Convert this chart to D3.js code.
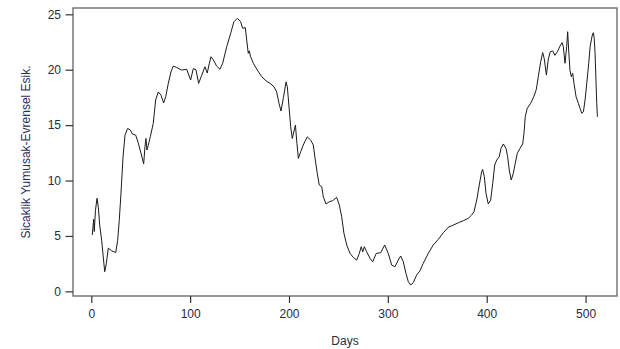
<!DOCTYPE html>
<html>
<head>
<meta charset="utf-8">
<script src="https://cdn.jsdelivr.net/npm/d3@7"></script>
<style>
  body { margin: 0; background: #fff; }
  svg { display: block; font-family: "Liberation Sans", Arial, sans-serif; }
</style>
</head>
<body>
<svg id="chart"></svg>
<script>
// values
var days = [1, 2.4, 3, 4.2, 5.8, 7.1, 8.5, 10.5, 12.1, 13.6, 15.2, 17.2, 20.6, 24.7, 26.7, 28.3, 30, 32.1, 34.1, 36.8,
    39.5, 41.5, 44.9, 47.5, 50.3, 53, 54.3, 55.3, 56.3, 57.7, 59.7, 62.7, 65.1, 67.8, 70.5, 73.2, 75.3, 77.9, 80.6, 82.9,
    86.4, 91.4, 96.5, 100.5, 103.2, 105.9, 108.6, 111.7, 115, 117.3, 119.4, 121.1, 123.4, 126.8, 130.2, 132.9, 137, 141, 144.3, 147.7,
    151.1, 153.1, 155.8, 157.2, 158.8, 159.8, 161.2, 163.9, 167.9, 172.4, 176.7, 180.8, 184.8, 187.5, 189.9, 191.9, 194.4, 197, 198.3, 200.3,
    201.7, 203.3, 206.5, 208, 209.5, 211.8, 214.4, 218.5, 221.9, 224.6, 226.6, 228.6, 230.6, 233.1, 234.7, 237.4, 240.7, 244.2, 248.2, 250.9,
    253.3, 255.6, 258.4, 261.7, 265, 268.5, 271.1, 273.1, 274.6, 276.2, 278.6, 282, 284.6, 288.3, 292.7, 296.8, 300.4, 303.9, 307.2, 310.5,
    313, 315.6, 318.3, 320.7, 323.1, 325.7, 329.1, 332.5, 335.8, 340.9, 345.9, 351, 356.1, 361.1, 366.2, 371.3, 376.3, 381.4, 384.8, 387.1,
    389.9, 392.5, 394.9, 395.9, 397.6, 399.3, 401.6, 404, 406.1, 408.1, 410.1, 412.7, 414.4, 416.8, 419.5, 421.2, 422.8, 424.8, 426.9, 428.9,
    430.9, 433.7, 436.4, 437.7, 439, 441, 444.5, 447.8, 450.1, 452.2, 454.6, 456.6, 458.2, 460.4, 462.3, 464.3, 466.7, 469, 471.4, 474.2,
    476.2, 477.5, 479.2, 480.9, 481.9, 482.9, 484.2, 485.6, 487, 488.3, 490.4, 492.7, 494.4, 496.2, 497.8, 499.5, 501.2, 503.2, 504.6, 506.6,
    507.8, 508.8, 509.6, 510.5, 511.3, 512];
var values = [5.08, 6.5, 5.4, 7.3, 8.4, 7.6, 6.0, 4.6, 3.1, 1.77, 2.5, 3.9, 3.66, 3.5, 4.6, 6.4, 8.8, 12.1, 14.1, 14.7,
    14.56, 14.2, 14.1, 13.4, 12.45, 11.5, 13.05, 13.8, 12.75, 13.2, 13.95, 15.16, 17.27, 18.0, 17.7, 17.0, 17.56, 18.77, 19.8, 20.33,
    20.2, 19.97, 20.04, 19.07, 20.1, 20.0, 18.77, 19.5, 20.27, 19.7, 20.58, 21.17, 20.9, 20.33, 20.04, 20.58, 22.08, 23.29, 24.33, 24.64,
    24.33, 23.74, 23.8, 22.68, 21.48, 21.7, 21.17, 20.58, 19.97, 19.37, 19.0, 18.77, 18.47, 18.0, 16.97, 16.27, 17.5, 18.9, 18.47, 16.36,
    14.86, 13.8, 15.0, 13.36, 12.0, 12.6, 13.2, 13.95, 13.65, 13.2, 11.85, 10.65, 9.6, 9.44, 8.54, 7.88, 8.09, 8.18, 8.48, 7.79,
    6.73, 5.23, 4.18, 3.43, 3.07, 2.82, 3.43, 4.03, 3.57, 4.03, 3.57, 2.98, 2.67, 3.43, 3.48, 4.18, 3.43, 2.37, 2.22, 2.82,
    3.19, 2.67, 1.62, 0.87, 0.57, 0.78, 1.47, 1.86, 2.53, 3.43, 4.18, 4.69, 5.29, 5.78, 5.98, 6.19, 6.37, 6.59, 6.89, 7.18,
    8.24, 9.6, 10.8, 11.0, 10.34, 8.84, 7.88, 8.24, 9.75, 11.4, 11.85, 12.15, 12.9, 13.3, 12.9, 12.15, 10.95, 10.05, 10.65, 11.55,
    12.45, 12.9, 13.3, 14.26, 15.76, 16.52, 16.97, 17.6, 18.2, 19.37, 20.72, 21.55, 21.0, 19.52, 20.95, 21.62, 21.7, 21.3, 21.62, 22.14,
    22.44, 22.08, 20.58, 22.08, 23.43, 21.78, 19.97, 19.37, 19.67, 18.77, 17.56, 16.97, 16.52, 16.06, 16.2, 17.27, 18.77, 20.58, 22.08, 23.04,
    23.34, 22.84, 21.48, 19.07, 16.97, 15.76];
var xTicks = [0, 100, 200, 300, 400, 500];
var yTicks = [0, 5, 10, 15, 20, 25];
var xTitle = "Days";
var yTitle = "Sicaklik Yumusak-Evrensel Esik.";

var width = 620, height = 349;
var margin = ({top: 8, right: 3, bottom: 53, left: 73});
var textColor = "#262d40";

var data = days.map((d, i) => ({day: d, value: values[i]}));

var x = d3.scaleLinear()
    .domain([-18.5, 531.8])
    .range([margin.left, width - margin.right]);

var y = d3.scaleLinear()
    .domain([-0.42, 25.57])
    .range([height - margin.bottom, margin.top]);

var xAxis = g => g
    .attr("transform", `translate(0,${height - margin.bottom})`)
    .call(d3.axisBottom(x).tickValues(xTicks).tickSize(7).tickPadding(6.5))
    .call(g => g.select(".domain").remove());

var yAxis = g => g
    .attr("transform", `translate(${margin.left},0)`)
    .call(d3.axisLeft(y).tickValues(yTicks).tickSize(7.5).tickPadding(4.5))
    .call(g => g.select(".domain").remove());

var line = d3.line()
    .x(d => x(d.day))
    .y(d => y(d.value));

const svg = d3.select("svg#chart")
    .attr("width", width)
    .attr("height", height)
    .attr("viewBox", [0, 0, width, height]);

svg.append("path")
    .datum(data)
    .attr("fill", "none")
    .attr("stroke", "#1a1a1a")
    .attr("stroke-width", 1)
    .attr("stroke-linejoin", "round")
    .attr("d", line);

// box round the plot region
svg.append("rect")
    .attr("x", margin.left)
    .attr("y", margin.top)
    .attr("width", width - margin.left - margin.right)
    .attr("height", height - margin.top - margin.bottom)
    .attr("fill", "none")
    .attr("stroke", "#6e6e6e")
    .attr("stroke-width", 1.4);

svg.append("g").call(xAxis);
svg.append("g").call(yAxis);

svg.selectAll(".tick line").attr("stroke", "#333").attr("stroke-width", 1.2);
svg.selectAll(".tick text")
    .attr("fill", textColor)
    .style("font-size", "12px")
    .style("font-family", "'Liberation Sans', Arial, sans-serif");

svg.append("text")
    .attr("x", (margin.left + width - margin.right) / 2)
    .attr("y", 345)
    .attr("text-anchor", "middle")
    .attr("fill", textColor)
    .style("font-size", "12px")
    .text(xTitle);

svg.append("text")
    .attr("transform", `translate(30,${(margin.top + height - margin.bottom) / 2}) rotate(-90)`)
    .attr("text-anchor", "middle")
    .attr("fill", "#1f2f55")
    .style("font-size", "12px")
    .text(yTitle);
</script>
</body>
</html>
